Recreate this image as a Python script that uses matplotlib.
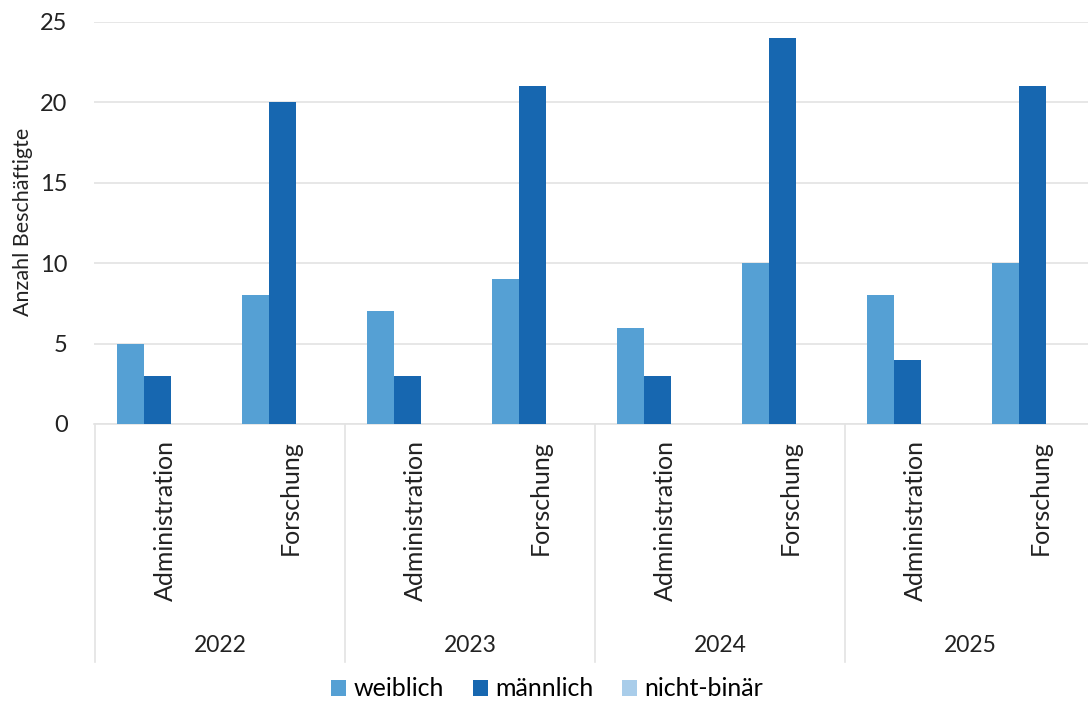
import matplotlib
matplotlib.use("Agg")
import matplotlib.pyplot as plt
import numpy as np

plt.rcParams['font.family'] = ['Lato', 'DejaVu Sans']

years = ["2022", "2023", "2024", "2025"]
categories = ["Administration", "Forschung"] * 4
weiblich = [5, 8, 7, 9, 6, 10, 8, 10]
maennlich = [3, 20, 3, 21, 3, 24, 4, 21]
nicht_binaer = [0, 0, 0, 0, 0, 0, 0, 0]
series_names = ["weiblich", "männlich", "nicht-binär"]
colors = ["#55a0d4", "#1767b0", "#a9cdea"]

W, H = 1088, 703
fig = plt.figure(figsize=(W / 100, H / 100), dpi=100)
ax = fig.add_axes([94 / W, 1 - 424 / H, 1 - 94 / W, (424 - 22) / H])

x = np.arange(len(categories))
bw = 0.216
for k, (vals, name, c) in enumerate(zip([weiblich, maennlich, nicht_binaer], series_names, colors)):
    ax.bar(x + (k - 1) * bw, vals, width=bw, color=c, label=name, zorder=3)

ax.set_xlim(-0.508, 7.444)
ax.set_ylim(0, 25)
ax.set_yticks([0, 5, 10, 15, 20, 25])
ax.tick_params(axis='y', length=0, labelsize=17, pad=19, colors='#222222')
ax.set_xticks([])
ax.grid(axis='y', color='#e3e3e3', lw=1.2, zorder=0)
for s in ['top', 'right', 'left']:
    ax.spines[s].set_visible(False)
ax.spines['bottom'].set_color('#e3e3e3')
ax.spines['bottom'].set_linewidth(1.2)
ax.set_ylabel("Anzahl Beschäftigte", fontsize=15.5, color='#222222')
ax.yaxis.set_label_coords(-(94 - 33) / (W - 94), 1 - (222 - 22) / 402)

axh = 402.0
for i, cat in enumerate(categories):
    ax.annotate(cat, xy=(i + 0.065, 0), xycoords=('data', 'axes fraction'),
                xytext=(0, -16 * 0.72), textcoords='offset points',
                rotation=90, ha='center', va='top', fontsize=18, color='#222222')

for j, yr in enumerate(years):
    ax.annotate(yr, xy=(2 * j + 0.5, 0), xycoords=('data', 'axes fraction'),
                xytext=(0, -222 * 0.72), textcoords='offset points',
                ha='center', va='center', fontsize=16.5, color='#222222')

tr = ax.get_xaxis_transform()
for sx in [-0.5, 1.5, 3.5, 5.5, 7.5]:
    ax.plot([sx, sx], [0, -(662 - 424) / axh], transform=tr, color='#e3e3e3',
            lw=1.2, clip_on=False)

fig.legend(loc='center', bbox_to_anchor=(0.503, 1 - 689 / H), ncol=3, frameon=False,
           fontsize=18, handlelength=0.6, handleheight=0.6, handletextpad=0.3,
           columnspacing=1.15, borderpad=0)

fig.savefig("out.png", dpi=100, facecolor='white')
